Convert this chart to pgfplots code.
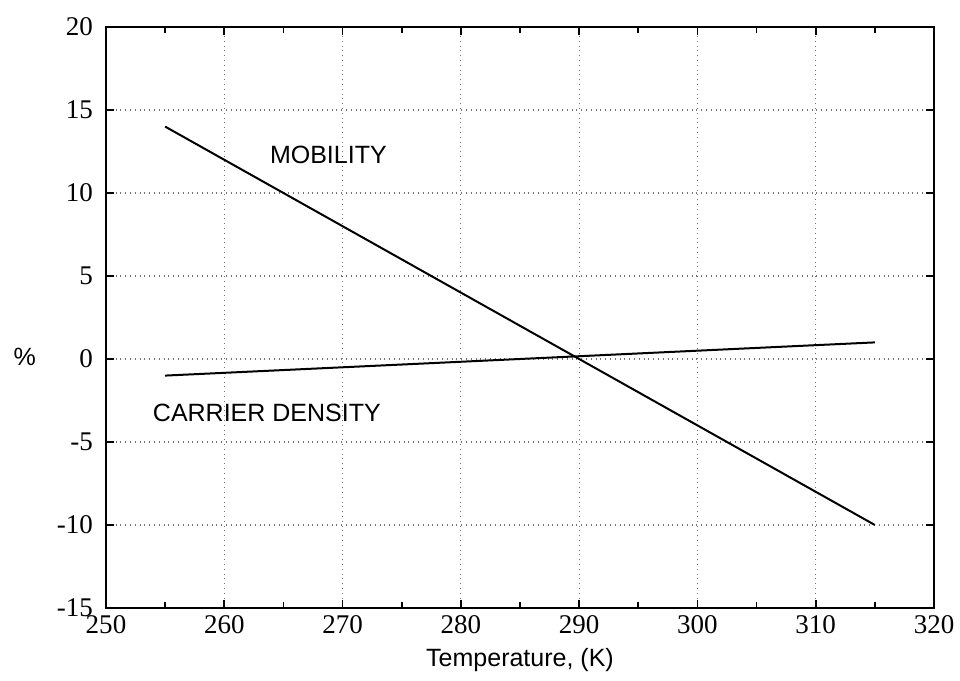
\documentclass[border=0pt]{standalone}
\usepackage{fontspec}
\setmainfont{Liberation Sans}
\newfontfamily\tickfont{Liberation Serif}
\usepackage{pgfplots}
\pgfplotsset{compat=1.18}
\begin{document}
\begin{tikzpicture}
\begin{axis}[
  scale only axis,
  width=414pt, height=290.5pt,
  xmin=250, xmax=320, ymin=-15, ymax=20,
  xtick={250,260,...,320},
  ytick={-15,-10,...,20},
  minor x tick num=1,
  tick align=inside,
  major tick length=4pt,
  minor tick length=3pt,
  xtick pos=both, ytick pos=both,
  grid=major,
  major grid style={black!55, dotted, line width=0.6pt},
  axis line style={line width=1.2pt},
  every tick/.style={black, line width=0.9pt},
  /pgf/number format/assume math mode=true,
  tick label style={font=\tickfont\fontsize{13.5}{14}\selectfont},
  xticklabel style={yshift=0pt},
  yticklabel style={xshift=-3pt},
  xlabel={Temperature, (K)},
  xlabel style={font=\fontsize{12.5}{14}\selectfont, at={(axis description cs:0.5,-0.0895)}, anchor=center},
  ylabel={\%},
  ylabel style={font=\fontsize{12.5}{14}\selectfont, rotate=-90, at={(axis description cs:-0.098,0.432)}, anchor=center},
]
\addplot[black, line width=1pt] coordinates {(255,14) (315,-10)};
\addplot[black, line width=1pt] coordinates {(255,-1) (315,1)};
\node[font=\fontsize{12.5}{14}\selectfont] at (axis cs:268.8,12.3) {MOBILITY};
\node[font=\fontsize{12.5}{14}\selectfont] at (axis cs:263.6,-3.25) {CARRIER DENSITY};
\coordinate (sw) at (rel axis cs:0,0);
\coordinate (ne) at (rel axis cs:1,1);
\end{axis}
\pgfresetboundingbox
\path[use as bounding box] ([shift={(-53pt,-36.5pt)}]sw) rectangle ([shift={(13pt,13.5pt)}]ne);
\end{tikzpicture}
\end{document}
